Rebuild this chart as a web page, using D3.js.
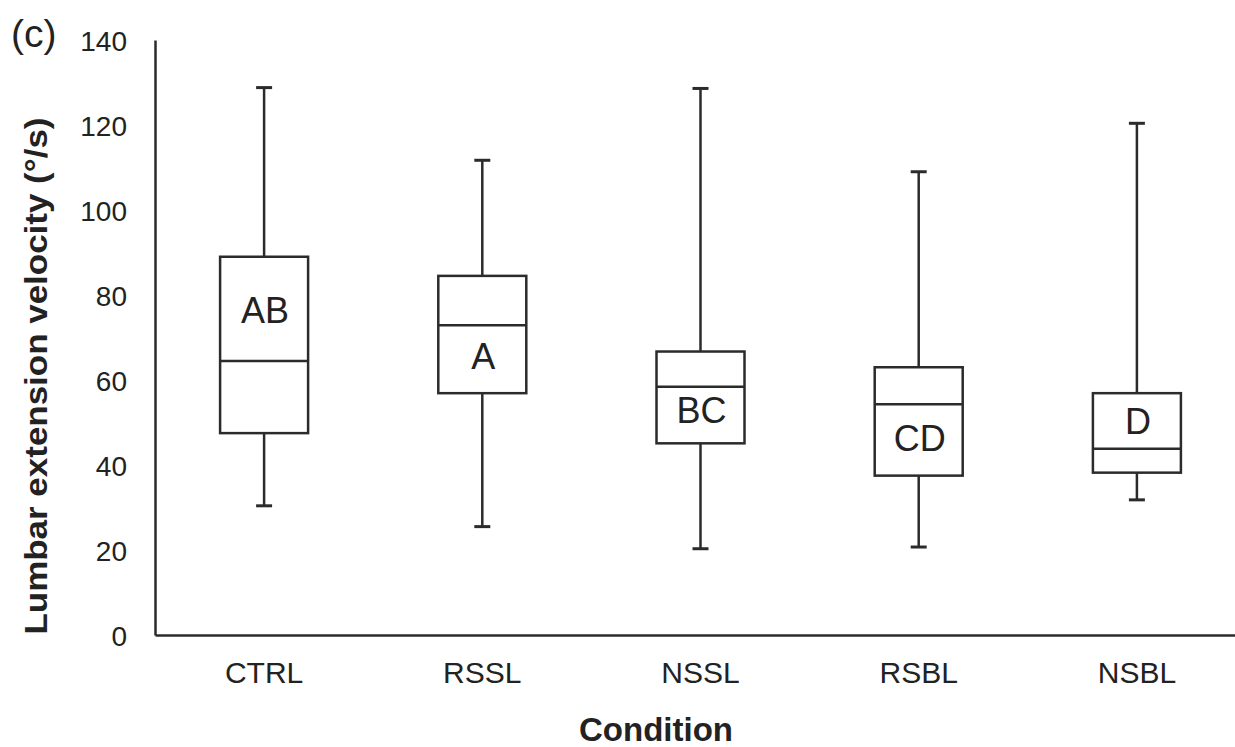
<!DOCTYPE html>
<html>
<head>
<meta charset="utf-8">
<script src="https://cdn.jsdelivr.net/npm/d3@7"></script>
<style>
  body { margin: 0; background: #fff; }
  text { font-family: "Liberation Sans", Arial, sans-serif; fill: #222; }
</style>
</head>
<body>
<script>
// values (°/s)
const conditions = ['CTRL', 'RSSL', 'NSSL', 'RSBL', 'NSBL'];
const mins     = [30.4, 25.5, 20.3, 20.7, 31.8];
const q1s      = [47.5, 56.9, 45.1, 37.5, 38.2];
const medians  = [64.5, 72.9, 58.4, 54.3, 43.8];
const q3s      = [89.0, 84.5, 66.7, 63.0, 56.9];
const maxs     = [128.8, 111.7, 128.6, 109.0, 120.4];
const letters  = ['AB', 'A', 'BC', 'CD', 'D'];
const letterAt = [73.5, 62.5, 50.0, 43.3, 47.3];
const yTicks   = [0, 20, 40, 60, 80, 100, 120, 140];

const boxes = conditions.map((c, i) => ({
    cond: c, min: mins[i], q1: q1s[i], med: medians[i], q3: q3s[i], max: maxs[i],
    letter: letters[i], letterY: letterAt[i]
}));

const width = 1235;
const height = 747;
const margin = { top: 40, bottom: 112, left: 155, right: -11 };
const lineCol = '#2b2b2b';

const svg = d3.select('body')
    .append('svg')
    .attr('width', width)
    .attr('height', height);

const x = d3.scaleBand()
    .domain(conditions)
    .range([margin.left, width - margin.right])
    .padding(0);

const y = d3.scaleLinear()
    .domain([0, 140])
    .range([height - margin.bottom, margin.top]);

// Y axis
const yAxis = svg.append('g')
    .attr('transform', `translate(${margin.left}, 0)`)
    .call(d3.axisLeft(y).tickValues(yTicks).tickSize(0).tickSizeOuter(0).tickPadding(28));
yAxis.select('.domain').attr('stroke', lineCol).attr('stroke-width', 2.5);
yAxis.selectAll('text').style('font-size', '28px').attr('fill', '#222').attr('dy', '0.36em');

// X axis
const xAxis = svg.append('g')
    .attr('transform', `translate(0, ${height - margin.bottom})`)
    .call(d3.axisBottom(x).tickSize(0).tickSizeOuter(0).tickPadding(27));
xAxis.select('.domain').attr('stroke', lineCol).attr('stroke-width', 2.5);
xAxis.selectAll('text').style('font-size', '30px').attr('fill', '#222');

// ── Boxes ──────────────────────────────────────────
const boxW = 88;
const capW = 16;
const g = svg.selectAll('.box')
    .data(boxes)
    .join('g')
    .attr('class', 'box')
    .attr('transform', d => `translate(${x(d.cond) + x.bandwidth() / 2}, 0)`);

g.append('line')
    .attr('x1', 0).attr('x2', 0)
    .attr('y1', d => y(d.max)).attr('y2', d => y(d.q3))
    .attr('stroke', lineCol).attr('stroke-width', 2.5);
g.append('line')
    .attr('x1', 0).attr('x2', 0)
    .attr('y1', d => y(d.q1)).attr('y2', d => y(d.min))
    .attr('stroke', lineCol).attr('stroke-width', 2.5);
g.append('line')
    .attr('x1', -capW / 2).attr('x2', capW / 2)
    .attr('y1', d => y(d.max)).attr('y2', d => y(d.max))
    .attr('stroke', lineCol).attr('stroke-width', 3);
g.append('line')
    .attr('x1', -capW / 2).attr('x2', capW / 2)
    .attr('y1', d => y(d.min)).attr('y2', d => y(d.min))
    .attr('stroke', lineCol).attr('stroke-width', 3);
g.append('rect')
    .attr('x', -boxW / 2)
    .attr('y', d => y(d.q3))
    .attr('width', boxW)
    .attr('height', d => y(d.q1) - y(d.q3))
    .attr('fill', 'none')
    .attr('stroke', lineCol).attr('stroke-width', 2.5);
g.append('line')
    .attr('x1', -boxW / 2).attr('x2', boxW / 2)
    .attr('y1', d => y(d.med)).attr('y2', d => y(d.med))
    .attr('stroke', lineCol).attr('stroke-width', 2.5);

// significance letters
g.append('text')
    .attr('x', 1)
    .attr('y', d => y(d.letterY))
    .attr('text-anchor', 'middle')
    .style('font-size', '36px')
    .text(d => d.letter);

// ── Labels ─────────────────────────────────────────
svg.append('text')
    .attr('x', 11)
    .attr('y', 47)
    .style('font-size', '39px')
    .text('(c)');

svg.append('text')
    .attr('transform', 'translate(47, 376) rotate(-90)')
    .attr('text-anchor', 'middle')
    .attr('textLength', 517)
    .attr('lengthAdjust', 'spacingAndGlyphs')
    .style('font-size', '32px')
    .style('font-weight', 'bold')
    .text('Lumbar extension velocity (°/s)');

svg.append('text')
    .attr('x', 656)
    .attr('y', 741)
    .attr('text-anchor', 'middle')
    .style('font-size', '33px')
    .style('font-weight', 'bold')
    .text('Condition');
</script>
</body>
</html>
